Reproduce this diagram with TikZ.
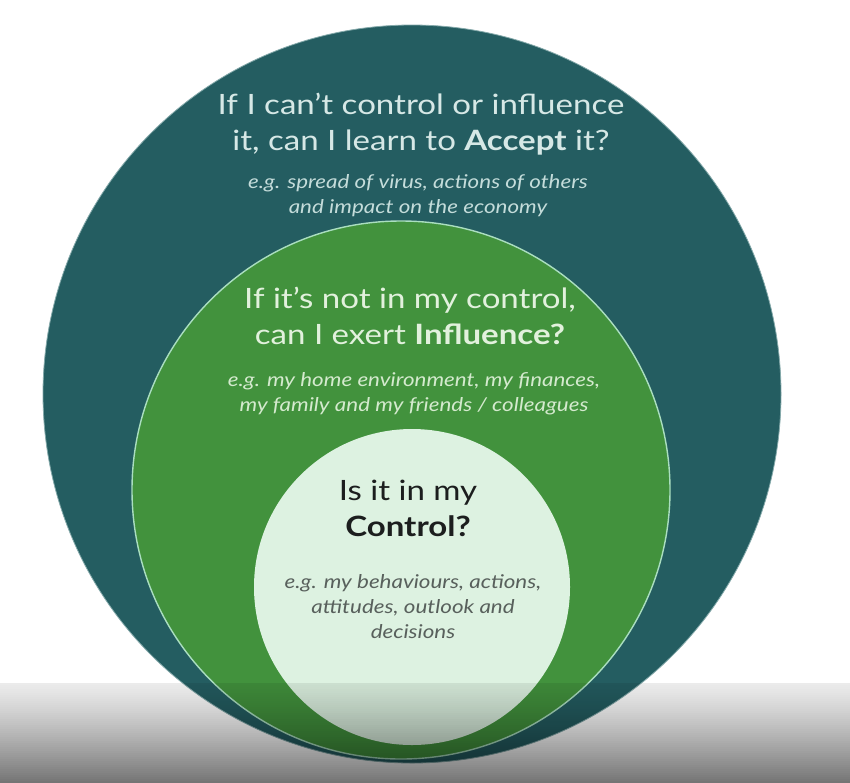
\documentclass[tikz,border=0pt]{standalone}
\usepackage{fontspec}
\setmainfont{Lato}[FakeStretch=1.18]
\definecolor{tealc}{RGB}{36,93,97}
\definecolor{greenc}{RGB}{66,146,61}
\definecolor{lightc}{RGB}{221,242,225}
\definecolor{mintline}{RGB}{170,222,192}
\definecolor{tealtxt}{RGB}{214,232,230}
\definecolor{tealex}{RGB}{196,220,218}
\definecolor{greentxt}{RGB}{226,241,221}
\definecolor{greenex}{RGB}{212,234,206}
\definecolor{innertxt}{RGB}{28,30,30}
\definecolor{innerex}{RGB}{88,96,92}

\begin{document}

\begin{tikzpicture}[x=1pt,y=-1pt,
  ring/.style={circle, inner sep=0pt, outer sep=0pt},
  ttl/.style={align=center, inner sep=0pt, font=\fontsize{28}{36}\selectfont},
  ex/.style={align=center, inner sep=0pt, font=\fontsize{19}{25}\selectfont\itshape}]
\useasboundingbox (0,0) rectangle (850,782);
\fill[white] (0,0) rectangle (850,782);
% circles
\node[ring, fill=tealc, draw=tealex!60!tealc, line width=0.8pt, minimum size=738pt] (outer) at (412,394) {};
\node[ring, fill=greenc, draw=mintline, line width=1.4pt, minimum size=538pt] (middle) at (401,490) {};
\node[ring, fill=lightc, minimum size=316pt] (inner) at (412,587) {};
% outer texts
\node[ttl, text=tealtxt] (q1) at (421,124) {If I can't control or influence\\it, can I learn to \textbf{Accept} it?};
\node[ex, text=tealex] (e1) at (418,196) {e.g. spread of virus, actions of others\\and impact on the economy};
% middle texts
\node[ttl, text=greentxt] (q2) at (410,316) {If it's not in my control,\\can I exert \textbf{Influence?}};
\node[ex, text=greenex] (e2) at (414,394) {e.g. my home environment, my finances,\\my family and my friends / colleagues};
% inner texts
\node[ttl, text=innertxt] (q3) at (408,508) {Is it in my\\\textbf{Control?}};
\node[ex, text=innerex] (e3) at (413,607) {e.g. my behaviours, actions,\\attitudes, outlook and\\decisions};
% bottom shade band
\foreach \i in {0,...,49}{
  \pgfmathsetmacro{\op}{0.08+0.46*(\i/49)^1.2}
  \fill[black, opacity=\op] (0,{683+\i*2}) rectangle (850,{685+\i*2+0.3});
}
\end{tikzpicture}

\end{document}
